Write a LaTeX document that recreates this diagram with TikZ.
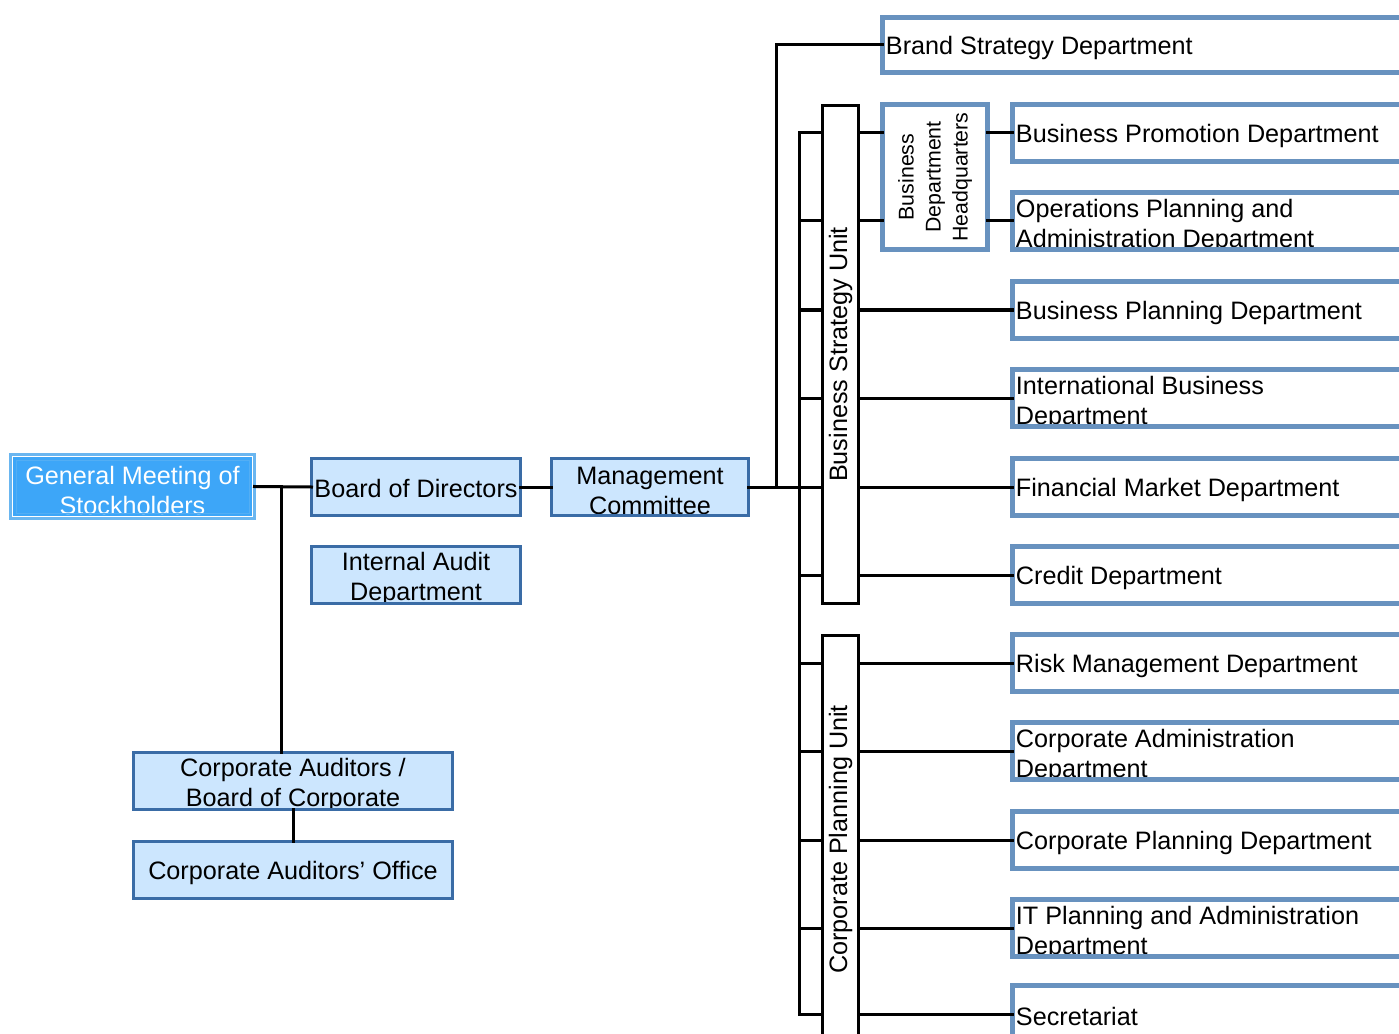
\documentclass[tikz,border=0pt]{standalone}
\usepackage{fontspec}
\setmainfont{Liberation Sans}
\usetikzlibrary{calc}
\definecolor{lfill}{HTML}{CCE6FE}
\definecolor{ldraw}{HTML}{3A6CA6}
\definecolor{rdraw}{HTML}{6892BF}
\definecolor{gmfill}{HTML}{3DA6F8}
\definecolor{gmdraw}{HTML}{6AB6F0}
\newcommand\dfont{\fontsize{18.9pt}{22.5pt}\selectfont}
\newcommand\hqfont{\fontsize{16pt}{20.25pt}\selectfont}
\tikzset{
  sz/.style 2 args={minimum width=#1*0.75pt,minimum height=#2*0.75pt},
  plain/.style={minimum width=0pt,minimum height=0pt,inner sep=0pt,rotate=0},
  conn/.style={line width=2.25pt,black,line cap=rect},
  lbox/.style={draw=ldraw,fill=lfill,line width=2.25pt},
  rbox/.style={draw=rdraw,fill=white,line width=3.75pt},
  ubox/.style={draw=black,fill=white,line width=2.25pt,rotate=90,font=\dfont},
  gmbox/.style={draw=gmdraw,fill=gmfill,line width=2.25pt},
  ltext/.style 2 args={path picture={\node[plain,align=center,font=\dfont] at ([yshift=#1]path picture bounding box.center) {#2};}},
  wtext/.style 2 args={path picture={\node[plain,align=center,font=\dfont,text=white] at ([yshift=#1]path picture bounding box.center) {#2};}},
  rtext/.style 2 args={path picture={\node[plain,anchor=west,align=left,font=\dfont] at ([xshift=2.6pt,yshift=#1]path picture bounding box.west) {#2};}}
}
\begin{document}
\begin{tikzpicture}[x=0.75pt,y=-0.75pt,every node/.style={inner sep=0pt,outer sep=0pt}]
\path[use as bounding box] (0,0) rectangle (1399,1034);
\clip (0,0) rectangle (1399,1034);

% left side
\node[gmbox,sz={244}{64},wtext={-3.2pt}{General Meeting of\\Stockholders}] (gm) at (132.5,486.5) {};
\draw[gmdraw!50!gmfill,line width=0.75pt] ([shift={(5.5,-5.5)}]gm.south west) rectangle ([shift={(-5.5,5.5)}]gm.north east);
\draw[white,line width=0.9pt] ([shift={(2.2,-2.2)}]gm.south west) rectangle ([shift={(-2.2,2.2)}]gm.north east);

\node[lbox,sz={209}{57},ltext={-0.8pt}{Board of Directors}] (bod) at (416,487) {};
\node[lbox,sz={209}{57},ltext={-3pt}{Internal Audit\\Department}] (iad) at (416,575) {};
\node[lbox,sz={197}{57},ltext={-3pt}{Management\\Committee}] (mc) at (650,487) {};
\node[lbox,sz={319}{57},ltext={-3pt}{Corporate Auditors /\\Board of Corporate}] (ca) at (293,781) {};
\node[lbox,sz={319}{57},ltext={-2pt}{Corporate Auditors’ Office}] (cao) at (293,870) {};

% units
\node[ubox,sz={498}{36}] (bsu) at (840.5,354.5) {Business Strategy Unit};
\node[ubox,sz={408}{36}] (cpu) at (840.5,839.5) {Corporate Planning Unit};
\node[rbox,sz={145}{105},rotate=90] (hq) at (935,177) {};
\node[rotate=90,font=\hqfont,align=center] (hqt) at (hq.center) {Business\\Department\\Headquarters};

% departments
\node[rbox,sz={537.5}{55},rtext={-2pt}{Brand Strategy Department}] (bsd) at (1151.25,45) {};
\node[rbox,sz={407.5}{57},rtext={-2pt}{Business Promotion Department}] (bpd) at (1216.25,133) {};
\node[rbox,sz={407.5}{57},rtext={-4pt}{Operations Planning and\\Administration Department}] (opd) at (1216.25,221) {};
\node[rbox,sz={407.5}{57},rtext={-2pt}{Business Planning Department}] (bpl) at (1216.25,310) {};
\node[rbox,sz={407.5}{57},rtext={-4pt}{International Business\\Department}] (ibd) at (1216.25,398) {};
\node[rbox,sz={407.5}{57},rtext={-2pt}{Financial Market Department}] (fmd) at (1216.25,487) {};
\node[rbox,sz={407.5}{57},rtext={-2pt}{Credit Department}] (cd) at (1216.25,575) {};
\node[rbox,sz={407.5}{57},rtext={-2pt}{Risk Management Department}] (rmd) at (1216.25,663) {};
\node[rbox,sz={407.5}{57},rtext={-4pt}{Corporate Administration\\Department}] (cad) at (1216.25,751) {};
\node[rbox,sz={407.5}{57},rtext={-2pt}{Corporate Planning Department}] (cpd) at (1216.25,840) {};
\node[rbox,sz={407.5}{57},rtext={-4pt}{IT Planning and Administration\\Department}] (itd) at (1216.25,928) {};
\node[rbox,sz={407.5}{57},rtext={-2pt}{Secretariat}] (sec) at (1216.25,1014) {};

% connectors
\coordinate (j1) at (281,487);
\coordinate (j2) at (776,487);
\coordinate (busx) at (799,0);
\draw[conn] (gm.east) -- (bod.west);
\draw[conn] (j1) -- (j1 |- ca.north);
\draw[conn] (ca.south) -- (cao.north);
\draw[conn] (bod.east) -- (mc.west);
\draw[conn] (mc.east) -- (mc.east -| bsu.north);
\draw[conn] (j2) |- (bsd.west);
\draw[conn] (bpd.west -| busx) -- (sec.west -| busx);
\foreach \d in {bpd,opd,bpl,ibd,fmd,cd}
  \draw[conn] (\d.west -| busx) -- (\d.west -| bsu.north);
\foreach \d in {rmd,cad,cpd,itd,sec}
  \draw[conn] (\d.west -| busx) -- (\d.west -| cpu.north);
\foreach \d in {bpl,ibd,fmd,cd}
  \draw[conn] (\d.west -| bsu.south) -- (\d.west);
\foreach \d in {rmd,cad,cpd,itd,sec}
  \draw[conn] (\d.west -| cpu.south) -- (\d.west);
\foreach \d in {bpd,opd}{
  \draw[conn] (\d.west -| bsu.south) -- (\d.west -| hq.north);
  \draw[conn] (\d.west -| hq.south) -- (\d.west);
}
\end{tikzpicture}
\end{document}
